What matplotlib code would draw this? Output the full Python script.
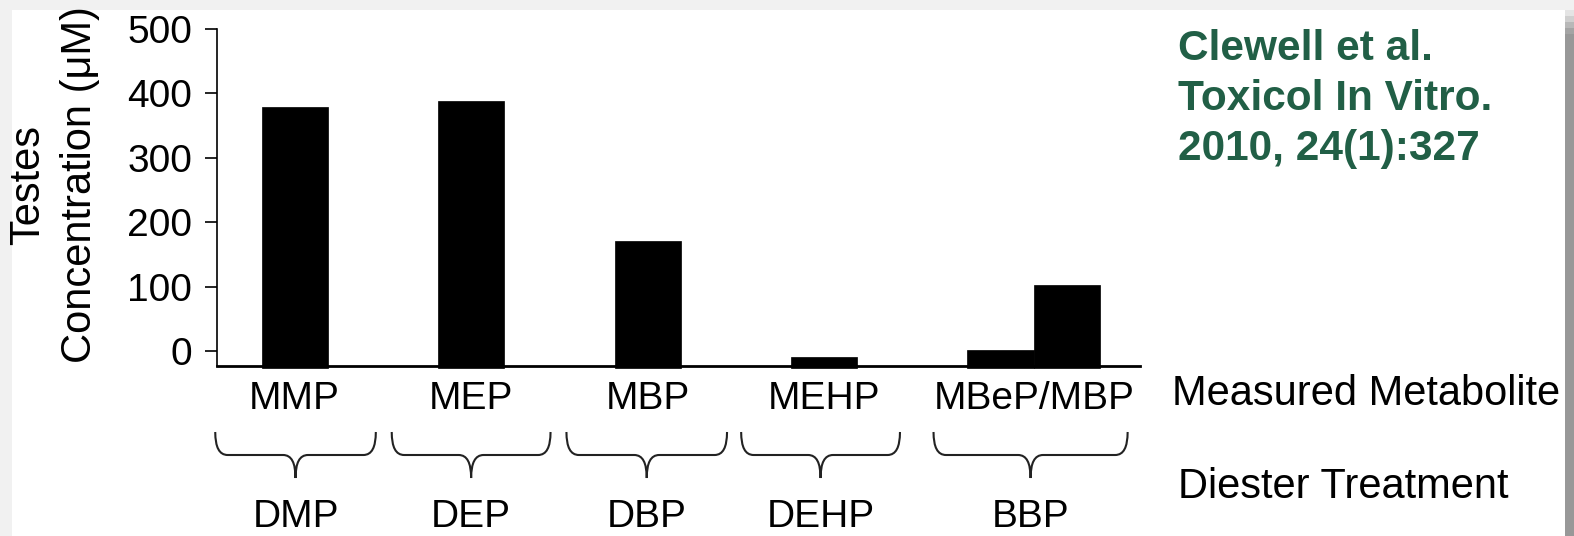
import matplotlib
matplotlib.use("Agg")
import matplotlib.pyplot as plt
from matplotlib.patches import Rectangle, PathPatch
from matplotlib.path import Path
from matplotlib.transforms import blended_transform_factory

plt.rcParams['font.family'] = ['Liberation Sans', 'DejaVu Sans']

# data
metabolites = ["MMP", "MEP", "MBP", "MEHP", "MBeP", "MBP"]
bar_pos = [0, 1, 2, 3, 4.0, 4.375]
conc = [379, 388, 171, -9, 2, 102]
group_labels = ["MMP", "MEP", "MBP", "MEHP", "MBeP/MBP"]
group_pos = [0, 1, 2, 3, 4.19]
diesters = ["DMP", "DEP", "DBP", "DEHP", "BBP"]
brace_spans = [(-0.45, 0.46), (0.55, 1.45), (1.54, 2.45), (2.53, 3.43), (3.62, 4.72)]
yticks = [0, 100, 200, 300, 400, 500]
citation = ["Clewell et al.", "Toxicol In Vitro.", "2010, 24(1):327"]

W, H = 1574, 536
fig = plt.figure(figsize=(W / 100, H / 100), dpi=100, facecolor='#f1f1f1')

def fx(px):
    return px / W

def fy(py):
    return 1 - py / H

# slide background + shadow on the right
fig.patches.append(Rectangle((fx(12), 0), fx(1565 - 12), fy(10), transform=fig.transFigure,
                             facecolor='white', edgecolor='none', zorder=-5))
shade = ['#e4e4e4', '#cfcfcf', '#b8b8b8', '#a4a4a4', '#989898']
for i, c in enumerate(shade):
    fig.patches.append(Rectangle((fx(1565), 0), fx(9), fy(10 + i * 6), transform=fig.transFigure,
                                 facecolor=c, edgecolor='none', zorder=10))

ax = fig.add_axes([fx(217), fy(366), fx(1140 - 217), fy(29) - fy(366)])
ax.set_zorder(2)
ax.set_facecolor('none')
base = -26
ax.bar(bar_pos, [v - base for v in conc], bottom=base, width=0.375, color='black',
       edgecolor='black', linewidth=0.5, clip_on=False, zorder=3)
ax.set_xlim(-0.44, 4.79)
ax.set_ylim(-23, 500)
ax.spines['top'].set_visible(False)
ax.spines['right'].set_visible(False)
ax.spines['left'].set_linewidth(1.2)
ax.spines['bottom'].set_linewidth(2)
ax.set_yticks(yticks)
ax.set_yticklabels([str(t) for t in yticks], fontsize=28)
ax.tick_params(axis='y', length=9, width=1.2, pad=9)
ax.set_xticks(group_pos)
ax.set_xticklabels(group_labels, fontsize=28)
ax.tick_params(axis='x', length=0, pad=11)

# y label (two lines)
fig.text(fx(28), fy(185), "Testes", rotation=90, ha='center', va='center', fontsize=30)
fig.text(fx(80), fy(185), "Concentration (μM)", rotation=90, ha='center', va='center', fontsize=30)

# braces under the metabolites
tr = blended_transform_factory(ax.transData, fig.transFigure)
top, mid, tip = fy(432), fy(455), fy(478)
r = 0.07
for (l, rr), lab in zip(brace_spans, diesters):
    c = (l + rr) / 2
    verts = [(l, top), (l, mid), (l + r, mid), (c - r, mid), (c, mid), (c, tip),
             (c, mid), (c + r, mid), (rr - r, mid), (rr, mid), (rr, top)]
    codes = [Path.MOVETO, Path.CURVE3, Path.CURVE3, Path.LINETO, Path.CURVE3, Path.CURVE3,
             Path.CURVE3, Path.CURVE3, Path.LINETO, Path.CURVE3, Path.CURVE3]
    ax.add_patch(PathPatch(Path(verts, codes), transform=tr, facecolor='none',
                           edgecolor='#222222', linewidth=1.5, clip_on=False))
    ax.text(c, fy(527), lab, transform=tr, ha='center', va='baseline', fontsize=28, clip_on=False)

fig.text(fx(1172), fy(394), "Measured Metabolite", ha='left', va='center', fontsize=30)
fig.text(fx(1178), fy(487), "Diester Treatment", ha='left', va='center', fontsize=30)

for i, line in enumerate(citation):
    fig.text(fx(1178), fy(60 + 50 * i), line, ha='left', va='baseline',
             fontsize=30.5, fontweight='bold', color='#215f46')

fig.savefig("out.png", dpi=100, facecolor=fig.get_facecolor())
